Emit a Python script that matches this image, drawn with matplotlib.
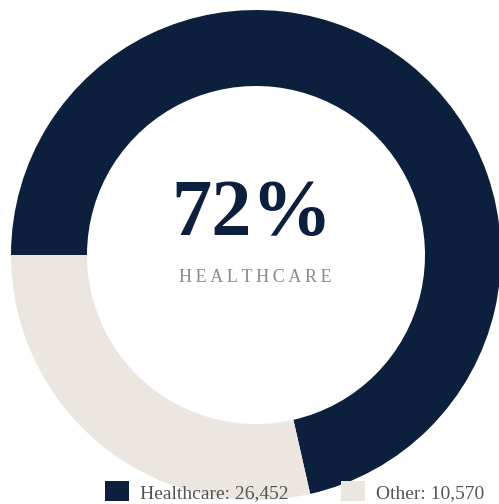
import matplotlib
matplotlib.use("Agg")
import matplotlib.pyplot as plt
from matplotlib.patches import Patch

# data
labels = ["Healthcare", "Other"]
values = [26452, 10570]
colors = ["#0c1f3d", "#ebe7e0"]
center_value = "72%"
center_label = "HEALTHCARE"

W, H = 499, 504
fig = plt.figure(figsize=(W / 100, H / 100), dpi=100)
ax = fig.add_axes([0, 0, 1, 1])

cx, cy, r = 256, H - 255, 245
ax.pie(values, colors=colors, startangle=180, counterclock=False,
       center=(cx, cy), radius=r, frame=True,
       wedgeprops=dict(width=r - 169, linewidth=0))
ax.set_xlim(0, W)
ax.set_ylim(0, H)
ax.set_aspect("equal")
ax.axis("off")

ax.text(cx - 4, cy + 40, center_value, ha="center", va="center",
        fontsize=58, fontweight="bold", family="Liberation Serif",
        color=colors[0])
ax.text(cx - 1, cy - 22, "\u2009".join(center_label), ha="center", va="center",
        fontsize=13, family="Liberation Serif", color="#8a8a8a")

handles = [Patch(facecolor=c, edgecolor="none") for c in colors]
leg_labels = [f"{l}: {v:,}" for l, v in zip(labels, values)]
fig.legend(handles, leg_labels, loc="lower center", ncol=2,
           bbox_to_anchor=(0.591, -0.03), frameon=False,
           prop={"family": "Liberation Serif", "size": 14},
           labelcolor="#555555", handlelength=1.2, handleheight=1.2,
           handletextpad=0.6, columnspacing=2.7)

fig.savefig("out.png", dpi=100)
